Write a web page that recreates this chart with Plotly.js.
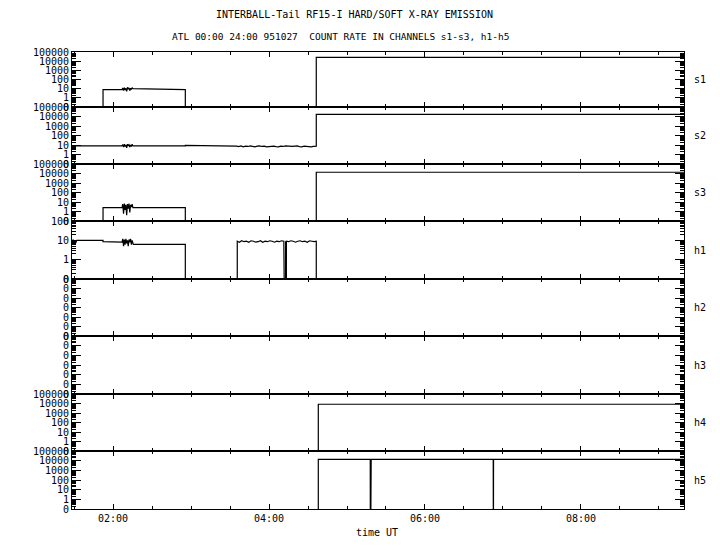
<!DOCTYPE html>
<html><head><meta charset="utf-8">
<script src="https://cdn.plot.ly/plotly-3.0.1.min.js"></script>
<style>body{margin:0;background:#fff}#chart{width:720px;height:550px}</style>
</head><body><div id="chart"></div>
<script>
// ---------------- data (time in hours UT, count rate) ----------------
const channels = ['s1','s2','s3','h1','h2','h3','h4','h5'];
const xTickVals = [2, 4, 6, 8];
const xTickText = ['02:00', '04:00', '06:00', '08:00'];

const yTickValsWide = [0.1, 1, 10, 100, 1000, 10000, 100000];
const yTickTextWide = ['0', '1', '10', '100', '1000', '10000', '100000'];
const yTickValsH1 = [0.1, 1, 10, 100];
const yTickTextH1 = ['0', '1', '10', '100'];
const yTickValsZero = [1e-7, 1e-6, 1e-5, 1e-4, 1e-3, 1e-2, 1e-1];
const yTickTextZero = ['0', '0', '0', '0', '0', '0', '0'];

// burst near 02:10
const tBurstA = [2.115, 2.125, 2.135, 2.145, 2.155, 2.165, 2.175, 2.185, 2.195, 2.205, 2.215, 2.225, 2.235, 2.245, 2.255];
// noisy interval 03:35 - 04:36
const tBurstB = [3.586, 3.61, 3.64, 3.67, 3.70, 3.73, 3.76, 3.79, 3.82, 3.85, 3.88, 3.91, 3.94, 3.97, 4.00, 4.03, 4.06, 4.09, 4.12, 4.15, 4.18, 4.21, 4.24, 4.27, 4.30, 4.33, 4.36, 4.39, 4.42, 4.45, 4.48, 4.51, 4.54, 4.57, 4.60];

const tS1 = [1.474, 1.872, 1.872].concat(tBurstA, [2.927, 2.927, 4.606, 4.606, 9.321]);
const vS1 = [0, 0, 8, 8, 12, 6, 13, 7, 11, 5, 14, 9, 12, 6, 11, 8, 13, 10, 8, 0, 0, 26000, 26000];

const tS2 = [1.474].concat(tBurstA, [2.927, 2.927], tBurstB, [4.606, 4.606, 9.321]);
const vS2 = [8, 8, 11, 6, 12, 7, 10, 5, 12, 9, 11, 6, 10, 7, 12, 8, 8, 9,
  7.5, 6.8, 8, 6.5, 7.5, 7, 8, 6.8, 6.5, 7.5, 8, 7, 7.5, 6.5, 7, 8, 7.5, 6.8, 6.5, 7.5, 7, 8, 7.5, 6.5, 7, 7.5, 8, 6.8, 6.5, 7.5, 7, 7.5, 6.5, 7, 7.5,
  7.5, 17000, 17000];

const tS3 = [1.474, 1.872, 1.872].concat(tBurstA, [2.927, 2.927, 4.606, 4.606, 9.321]);
const vS3 = [0, 0, 2.5, 2.5, 6, 0.6, 7, 1.5, 5, 0.4, 6, 2, 7, 0.8, 5, 3, 6, 2.5, 2.5, 0, 0, 13500, 13500];

const tH1 = [1.474, 1.49, 1.50, 1.51, 1.52, 1.535, 1.55, 1.872, 1.872].concat(tBurstA, [2.26, 2.927, 2.927, 3.593, 3.593,
  3.62, 3.65, 3.68, 3.71, 3.74, 3.77, 3.80, 3.83, 3.86, 3.89, 3.92, 3.95, 3.98, 4.01, 4.04, 4.07, 4.10, 4.13, 4.16, 4.19,
  4.212, 4.213, 4.222, 4.223, 4.25, 4.28, 4.31, 4.34, 4.37, 4.40, 4.43, 4.46, 4.49, 4.52, 4.55, 4.58, 4.606, 4.606, 9.321]);
const vH1 = [8, 11, 6, 10, 7, 10, 10, 10, 8.5,
  8, 12, 5, 11, 6, 12, 7, 10, 5, 11, 8, 12, 6, 10, 8,
  6.2, 6.2, 0, 0, 9,
  8, 9.5, 8.5, 9, 8, 9.5, 9, 8, 8.5, 9.5, 8, 9, 8.5, 9.5, 9, 8, 9, 8.5, 9.5, 9,
  0, 9, 0, 9, 8.5, 9.5, 9, 8, 9, 9.5, 8.5, 9, 8, 9.5, 9, 8.5, 9, 0, 0];

const tH2 = [1.474, 9.321];
const vH2 = [0, 0];
const tH3 = [1.474, 9.321];
const vH3 = [0, 0];

const tH4 = [1.474, 4.632, 4.632, 9.321];
const vH4 = [0, 0, 8300, 8300];

const tH5 = [1.474, 4.632, 4.632, 5.298, 5.300, 5.302, 5.304, 5.306, 5.308, 5.310, 6.875, 6.877, 6.879, 9.321];
const vH5 = [0, 0, 13800, 13800, 0, 13800, 0, 13800, 0, 13800, 13800, 0, 13800, 13800];

const series = [[tS1, vS1], [tS2, vS2], [tS3, vS3], [tH1, vH1], [tH2, vH2], [tH3, vH3], [tH4, vH4], [tH5, vH5]];

// ---------------- layout ----------------
const W = 720, H = 550;
const bounds = [52, 107, 164, 221, 279, 336, 394, 451, 509];
const xl = 72 / W, xr = 684 / W;
const FONT = 'DejaVu Sans Mono';

const traces = [];
const layout = {
  width: W, height: H,
  margin: {l: 0, r: 0, t: 0, b: 0},
  paper_bgcolor: '#fff', plot_bgcolor: '#fff',
  showlegend: false,
  font: {family: FONT, size: 10, color: '#000'},
  annotations: []
};

channels.forEach((name, i) => {
  const n = i + 1;
  const xa = 'xaxis' + (n === 1 ? '' : n), ya = 'yaxis' + (n === 1 ? '' : n);
  const xr_ = 'x' + (n === 1 ? '' : n), yr_ = 'y' + (n === 1 ? '' : n);
  const [t, v] = series[i];
  traces.push({
    type: 'scatter', mode: 'lines', x: t,
    y: v.map(d => d > 0 ? d : 1e-9),
    xaxis: xr_, yaxis: yr_,
    line: {color: '#000', width: 1.2},
    hoverinfo: 'skip'
  });
  const isBottom = (i === channels.length - 1);
  layout[xa] = {
    domain: [xl, xr], anchor: yr_,
    range: [1.474, 9.321],
    showgrid: false, zeroline: false,
    showline: true, linecolor: '#000', linewidth: 1, mirror: 'ticks',
    ticks: 'inside', ticklen: 5, tickcolor: '#000', tickwidth: 1,
    tickmode: 'array', tickvals: xTickVals, ticktext: xTickText,
    showticklabels: isBottom,
    tickfont: {family: FONT, size: 10, color: '#000'},
    minor: {ticks: 'inside', ticklen: 3, tickcolor: '#000', tick0: 0, dtick: 0.5, showgrid: false}
  };
  if (n !== 1) layout[xa].matches = 'x';
  let tv = yTickValsWide, tt = yTickTextWide, rg = [-1, 5];
  if (name === 'h1') { tv = yTickValsH1; tt = yTickTextH1; rg = [-1, 2]; }
  if (name === 'h2' || name === 'h3') { tv = yTickValsZero; tt = yTickTextZero; rg = [-7, -1]; }
  layout[ya] = {
    domain: [1 - bounds[i + 1] / H, 1 - bounds[i] / H], anchor: xr_,
    type: 'log', range: rg,
    showgrid: false, zeroline: false,
    showline: true, linecolor: '#000', linewidth: 1, mirror: 'ticks',
    ticks: 'inside', ticklen: 9, tickcolor: '#000', tickwidth: 1,
    tickmode: 'array', tickvals: tv, ticktext: tt,
    tickfont: {family: FONT, size: 10, color: '#000'},
    minor: {ticks: 'inside', ticklen: 4, tickcolor: '#000', dtick: 'D1', showgrid: false}
  };
  layout.annotations.push({
    xref: 'paper', yref: 'paper', x: 700 / W, y: 1 - (bounds[i] + bounds[i + 1]) / 2 / H,
    text: name, showarrow: false, xanchor: 'center', yanchor: 'middle',
    font: {family: FONT, size: 10, color: '#000'}
  });
});

layout.annotations.push(
  {xref: 'paper', yref: 'paper', x: 354 / W, y: 1 - 14 / H, text: 'INTERBALL-Tail RF15-I HARD/SOFT X-RAY EMISSION',
   showarrow: false, xanchor: 'center', yanchor: 'middle', font: {family: FONT, size: 10, color: '#000'}},
  {xref: 'paper', yref: 'paper', x: 340 / W, y: 1 - 37 / H, text: 'ATL 00:00 24:00 951027  COUNT RATE IN CHANNELS s1-s3, h1-h5',
   showarrow: false, xanchor: 'center', yanchor: 'middle', font: {family: FONT, size: 9.5, color: '#000'}},
  {xref: 'paper', yref: 'paper', x: 377 / W, y: 1 - 532 / H, text: 'time UT',
   showarrow: false, xanchor: 'center', yanchor: 'middle', font: {family: FONT, size: 10, color: '#000'}}
);

Plotly.newPlot('chart', traces, layout, {staticPlot: true, displayModeBar: false});
</script>
</body></html>
